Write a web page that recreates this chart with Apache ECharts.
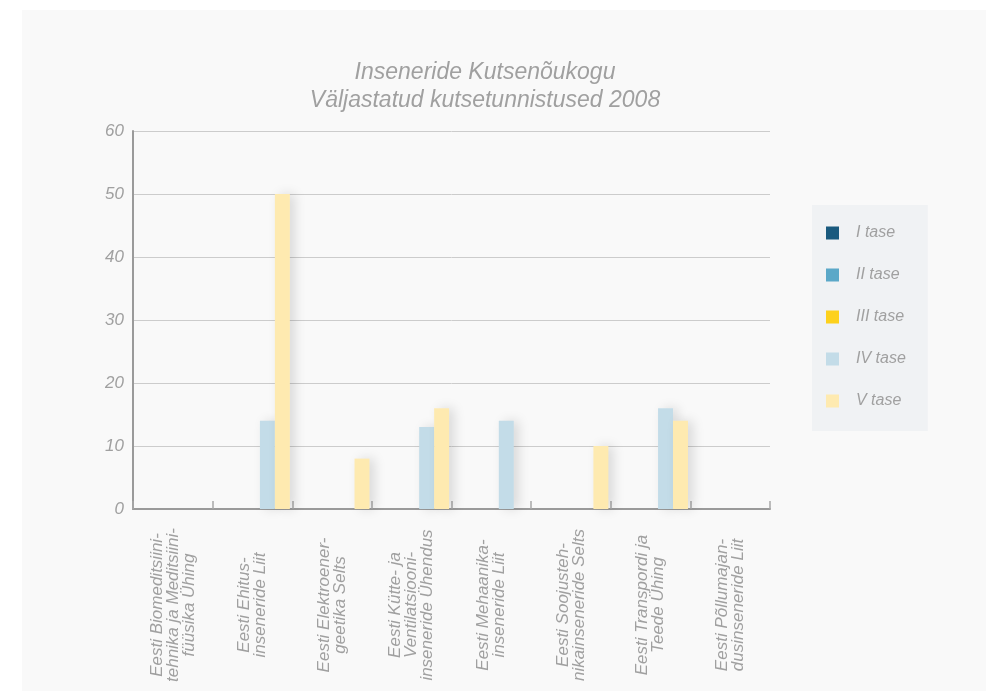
<!DOCTYPE html>
<html style="height: 100%">
<head>
    <meta charset="utf-8">
    <title>Inseneride Kutsenõukogu</title>
    <script src="https://cdn.jsdelivr.net/npm/echarts@6/dist/echarts.min.js"></script>
</head>
<body style="height: 100%; margin: 0; background: #ffffff">
    <!-- light panel behind the chart -->
    <div style="position: absolute; left: 22px; top: 10px; width: 964px; height: 681px; background: #f9f9f9"></div>
    <div id="chart" style="position: absolute; left: 0; top: 0; width: 986px; height: 691px"></div>

    <script>
        const categories = [
            'Eesti Biomeditsiini-\ntehnika ja Meditsiini-\nfüüsika Ühing',
            'Eesti Ehitus-\ninseneride Liit',
            'Eesti Elektroener-\ngeetika Selts',
            'Eesti Kütte- ja\nVentilatsiooni-\ninseneride Ühendus',
            'Eesti Mehaanika-\ninseneride Liit',
            'Eesti Soojusteh-\nnikainseneride Selts',
            'Eesti Transpordi ja\nTeede Ühing',
            'Eesti Põllumajan-\ndusinseneride Liit'
        ];
        const seriesNames = ['I tase', 'II tase', 'III tase', 'IV tase', 'V tase'];
        const seriesColors = ['#1a5a7e', '#5ba8c8', '#fdd11c', '#c3dce8', '#feeab0'];
        const tase1 = [0, 0, 0, 0, 0, 0, 0, 0];
        const tase2 = [0, 0, 0, 0, 0, 0, 0, 0];
        const tase3 = [0, 0, 0, 0, 0, 0, 0, 0];
        const tase4 = [0, 14, 0, 13, 14, 0, 16, 0];
        const tase5 = [0, 50, 8, 16, 0, 10, 14, 0];
        const values = [tase1, tase2, tase3, tase4, tase5];

        const font = 'Liberation Sans, Arial, sans-serif';
        const grey = '#a0a0a0';

        const option = {
            backgroundColor: 'transparent',
            title: {
                text: 'Inseneride Kutsenõukogu\nVäljastatud kutsetunnistused 2008',
                left: 480,
                top: 54,
                textAlign: 'center',
                textStyle: {
                    fontFamily: font,
                    fontStyle: 'italic',
                    fontWeight: 'normal',
                    fontSize: 23,
                    lineHeight: 28,
                    color: grey
                }
            },
            legend: {
                orient: 'vertical',
                left: 812,
                top: 205,
                padding: [20, 22, 22, 14],
                itemGap: 26,
                itemWidth: 13,
                itemHeight: 13,
                icon: 'rect',
                backgroundColor: '#f0f2f4',
                data: seriesNames,
                textStyle: {
                    fontFamily: font,
                    fontStyle: 'italic',
                    fontSize: 16,
                    color: grey,
                    padding: [0, 0, 0, 12]
                }
            },
            grid: {
                left: 133,
                right: 216,
                top: 131,
                bottom: 182
            },
            xAxis: {
                type: 'category',
                data: categories,
                axisLine: { lineStyle: { color: '#9a9a9a', width: 2 } },
                axisTick: { show: true, inside: true, length: 8, lineStyle: { color: '#a8a8a8', width: 1.5 } },
                axisLabel: {
                    rotate: 90,
                    align: 'center',
                    verticalAlign: 'middle',
                    margin: 96,
                    fontFamily: font,
                    fontStyle: 'italic',
                    fontSize: 17,
                    lineHeight: 16,
                    color: grey,
                    interval: 0
                }
            },
            yAxis: {
                type: 'value',
                min: 0,
                max: 60,
                interval: 10,
                axisLine: { show: true, lineStyle: { color: '#9a9a9a', width: 2 } },
                axisTick: { show: false },
                splitLine: { lineStyle: { color: '#cccccc' } },
                axisLabel: {
                    margin: 9,
                    fontFamily: font,
                    fontStyle: 'italic',
                    fontSize: 17,
                    color: grey
                }
            },
            series: seriesNames.map((name, i) => ({
                name: name,
                type: 'bar',
                data: values[i],
                barGap: '0%',
                barCategoryGap: '6%',
                itemStyle: {
                    color: seriesColors[i],
                    shadowBlur: 12,
                    shadowOffsetX: 5,
                    shadowColor: 'rgba(0,0,0,0.13)'
                }
            }))
        };

        const chart = echarts.init(document.getElementById('chart'), null, { renderer: 'canvas' });
        chart.setOption(option);
    </script>
</body>
</html>
